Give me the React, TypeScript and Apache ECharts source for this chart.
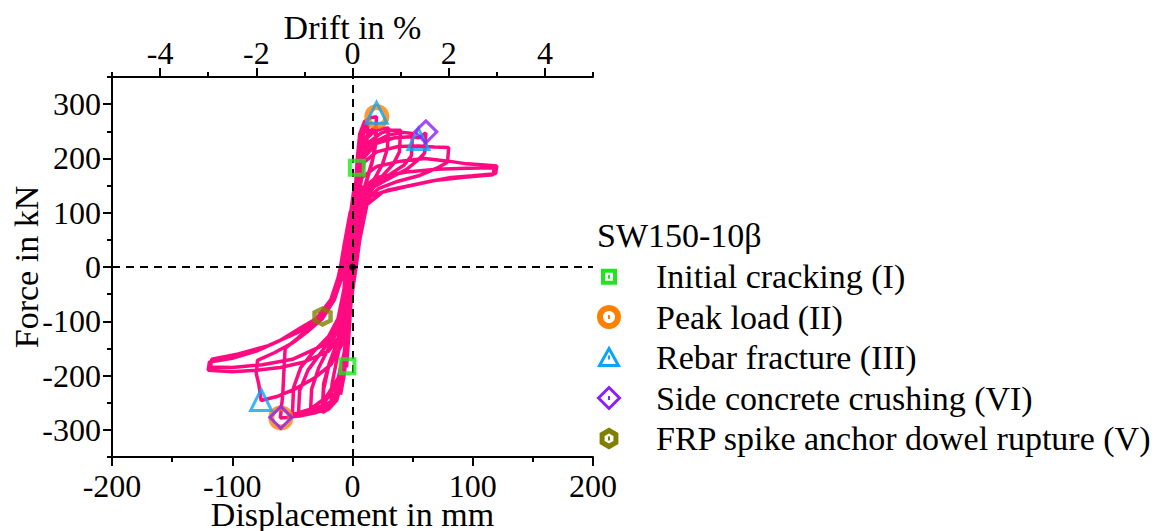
import React, { useEffect, useRef } from "react";
import * as echarts from "echarts";

// ---------- data (displacement in mm, force in kN) ----------
const C1 = [[0,0],[1,45],[2,90],[3,125],[2.5,100],[1,45],[0,0],[-1,-45],[-2,-90],[-3,-125],[-2.5,-100],[-1,-45],[0,0]];
const C2 = [[0,0],[1.5,70],[3,135],[4.5,185],[4,160],[2,90],[0,15],[-1.5,-60],[-3,-125],[-5,-185],[-4.5,-160],[-2.5,-90],[-0.5,-10],[0,0]];
const C3 = [[0,0],[2,85],[4,165],[6,225],[8,250],[7,215],[5,165],[3,100],[1,30],[0,0],[-2,-70],[-4,-140],[-7,-200],[-10,-235],[-9,-205],[-7,-160],[-4,-100],[-2,-35],[-1,0]];
const C4 = [[-1,0],[1,60],[3,130],[6,200],[9,245],[13,268],[12,230],[9,185],[6,140],[3,80],[1,20],[0,0],[-2,-60],[-5,-140],[-9,-205],[-13,-240],[-18,-255],[-17,-215],[-13,-170],[-9,-130],[-5,-75],[-3,-20],[-2,0]];
const C5 = [[-2,0],[0,60],[2,130],[4,200],[6,245],[10,268],[15,275],[20,277],[19,240],[17,200],[13,170],[9,140],[5,90],[2,25],[1,0],[-1,-50],[-4,-130],[-8,-200],[-13,-245],[-20,-262],[-25,-268],[-24,-225],[-20,-185],[-14,-150],[-9,-110],[-5,-50],[-3,0]];
const C6 = [[-3,0],[-1,50],[2,125],[5,190],[9,230],[14,250],[20,258],[19,222],[16,190],[12,160],[8,130],[5,85],[2,20],[1,0],[-2,-60],[-5,-140],[-10,-210],[-16,-245],[-25,-258],[-24,-215],[-19,-175],[-13,-140],[-8,-100],[-5,-45],[-4,0]];
const C7 = [[-4,0],[-1,70],[2,140],[6,200],[11,235],[18,250],[25,255],[30,256],[29,218],[25,190],[19,165],[12,145],[7,115],[4,60],[2,0],[-1,-60],[-4,-140],[-9,-210],[-15,-245],[-25,-265],[-35,-270],[-34,-225],[-28,-185],[-20,-150],[-13,-120],[-8,-80],[-5,-20],[-4,0]];
const C8 = [[-4,0],[-1,70],[3,145],[8,200],[15,232],[24,247],[32,252],[40,252],[39,212],[34,190],[25,168],[15,150],[9,125],[5,70],[2,0],[-1,-60],[-5,-145],[-10,-210],[-18,-250],[-30,-268],[-45,-275],[-44,-228],[-37,-190],[-27,-160],[-17,-130],[-10,-95],[-6,-40],[-5,0]];
const C9 = [[-5,0],[-2,70],[3,150],[9,200],[18,230],[30,243],[42,248],[50,246],[49,205],[43,188],[32,172],[20,155],[11,135],[6,85],[3,0],[-1,-60],[-5,-140],[-12,-205],[-22,-240],[-35,-262],[-50,-272],[-49,-222],[-43,-185],[-32,-155],[-20,-128],[-12,-95],[-7,-40],[-6,0]];
const C10 = [[-6,0],[-3,70],[2,150],[9,200],[20,228],[35,238],[48,240],[55,238],[61,247],[60,210],[55,198],[45,180],[32,165],[18,148],[10,125],[6,75],[3,0],[-1,-60],[-6,-150],[-13,-215],[-25,-255],[-40,-272],[-52,-277],[-60,-278],[-58,-235],[-57,-190],[-56,-150],[-45,-130],[-35,-108],[-25,-90],[-15,-60],[-9,-20],[-7,0]];
const C11 = [[-7,0],[-4,60],[1,140],[8,190],[20,212],[38,222],[55,223],[68,221],[80,220],[79,193],[70,182],[55,168],[38,158],[22,145],[12,125],[7,75],[3,0],[-2,-70],[-8,-140],[-18,-180],[-32,-205],[-48,-225],[-62,-238],[-76,-246],[-78,-215],[-80,-197],[-79,-172],[-65,-158],[-50,-140],[-38,-120],[-25,-95],[-15,-60],[-9,-15],[-8,0]];
const C12 = [[-8,0],[-5,50],[0,120],[8,165],[20,185],[40,195],[60,200],[80,195],[95,190],[110,188],[120,186],[119,172],[100,168],[82,165],[65,158],[48,150],[30,142],[15,130],[8,95],[4,30],[3,0],[-2,-60],[-8,-120],[-20,-155],[-40,-175],[-60,-185],[-80,-190],[-100,-193],[-120,-190],[-119,-175],[-100,-168],[-80,-155],[-60,-135],[-43,-112],[-30,-95],[-18,-60],[-12,-20],[-10,0]];
const C13 = [[-10,0],[-7,40],[-2,100],[5,140],[20,165],[45,175],[70,180],[95,182],[118,183],[117,170],[95,166],[70,160],[45,148],[25,138],[12,115],[6,50],[3,0],[-3,-60],[-10,-110],[-25,-145],[-50,-170],[-75,-180],[-100,-185],[-118,-184],[-117,-170],[-95,-160],[-70,-145],[-45,-120],[-28,-95],[-15,-50],[-10,0]];
const CYCLES = [C1, C2, C3, C4, C5, C6, C7, C8, C9, C10, C11, C12, C13];

const CRACKING = [[3.6, 183], [-4.2, -183]];
const PEAK = [[20.2, 277], [-59.6, -278]];
const REBAR = [[20, 284], [54.8, 236], [-76, -245]];
const CRUSHING = [[61, 249], [-59.6, -277]];
const FRP = [[-24.9, -91]];

const X_LABELS = [-200, -100, 0, 100, 200];
const Y_LABELS = [-300, -200, -100, 0, 100, 200, 300];
const DRIFT_LABELS = [-4, -2, 0, 2, 4];

const SPECIMEN = "SW150-10β";
const NAMES = [
  "Initial cracking (I)",
  "Peak load (II)",
  "Rebar fracture (III)",
  "Side concrete crushing (VI)",
  "FRP spike anchor dowel rupture (V)",
];
const COLORS = ["#1ee61e", "#ff8000", "#0aa5f5", "#8a1eff", "#808000"];

const FONT = "'Liberation Serif', 'Times New Roman', serif";
const PINK = "#ff0a80";
const HEX = "path://M0,-10 L8.66,-5 L8.66,5 L0,10 L-8.66,5 L-8.66,-5 Z";

function legendGraphics() {
  const x = 609;
  const rows = [276.7, 317, 357.5, 398, 438.5];
  const textX = 656;
  const els: any[] = [
    {
      type: "text", x: 597, y: 235,
      style: { text: SPECIMEN, font: "34px " + FONT, fill: "#000", verticalAlign: "middle" },
    },
  ];
  NAMES.forEach((n, i) => {
    els.push({
      type: "text", x: textX, y: rows[i],
      style: { text: n, font: "34px " + FONT, fill: "#000", verticalAlign: "middle" },
    });
  });
  const y = rows;
  els.push({ type: "rect", shape: { x: x - 6, y: y[0] - 6, width: 12, height: 12 }, style: { fill: "#fff", stroke: COLORS[0], lineWidth: 4 } });
  els.push({ type: "circle", shape: { cx: x, cy: y[1], r: 9 }, style: { fill: "#fff", stroke: COLORS[1], lineWidth: 6 } });
  els.push({ type: "polygon", shape: { points: [[x, y[2] - 9], [x + 9.5, y[2] + 8], [x - 9.5, y[2] + 8]] }, style: { fill: "#fff", stroke: COLORS[2], lineWidth: 3, lineJoin: "miter" } });
  els.push({ type: "polygon", shape: { points: [[x, y[3] - 10.5], [x + 10.5, y[3]], [x, y[3] + 10.5], [x - 10.5, y[3]]] }, style: { fill: "#fff", stroke: COLORS[3], lineWidth: 3 } });
  els.push({ type: "polygon", shape: { points: [[x, y[4] - 8], [x + 6.9, y[4] - 4], [x + 6.9, y[4] + 4], [x, y[4] + 8], [x - 6.9, y[4] + 4], [x - 6.9, y[4] - 4]] }, style: { fill: "#fff", stroke: COLORS[4], lineWidth: 5 } });
  COLORS.forEach((c, i) => {
    els.push({ type: "rect", shape: { x: x - 1, y: y[i] - 2, width: 2, height: 4 }, style: { fill: c } });
  });
  return els;
}

export default function App() {
  const ref = useRef<HTMLDivElement>(null);
  useEffect(() => {
    if (!ref.current) return;
    const chart = echarts.init(ref.current, null, { renderer: "svg" });
    const hyst: number[][] = [];
    CYCLES.forEach((c) => c.forEach((p) => hyst.push(p)));
    const txt = { fontFamily: FONT, fontSize: 32, color: "#000", lineHeight: 26 };
    const nameTxt = { fontFamily: FONT, fontSize: 34, color: "#000", lineHeight: 28 };
    const axisLine = { show: true, onZero: false, lineStyle: { color: "#000", width: 2 } };
    const noLine = { show: false, onZero: false };
    const tickStyle = { width: 2, color: "#000" };
    const marker = (name: string, data: number[][], symbol: string, size: number, color: string, bw: number) => ({
      name,
      type: "scatter",
      data,
      symbol,
      symbolSize: size,
      z: 5,
      itemStyle: { color: "rgba(0,0,0,0)", borderColor: color, borderWidth: bw },
    });
    chart.setOption({
      animation: false,
      backgroundColor: "#fff",
      grid: { left: 112, right: 566, top: 77, bottom: 74, containLabel: false, outerBoundsMode: "none" },
      xAxis: [
        {
          type: "value", position: "bottom", min: -200, max: 200, interval: 50,
          axisLine, splitLine: { show: false },
          axisTick: { show: true, length: 5, lineStyle: tickStyle },
          axisLabel: { ...txt, margin: 16, customValues: X_LABELS },
          name: "Displacement in mm", nameLocation: "middle", nameGap: 43, nameMoveOverlap: false,
          nameTextStyle: nameTxt,
        },
        {
          type: "value", position: "bottom", min: -200, max: 200,
          axisLine: noLine, splitLine: { show: false },
          axisTick: { show: true, length: 9, customValues: X_LABELS, lineStyle: tickStyle },
          axisLabel: { show: false },
        },
        {
          type: "value", position: "top", min: -5, max: 5, interval: 1,
          axisLine, splitLine: { show: false },
          axisTick: { show: true, length: 5, lineStyle: tickStyle },
          axisLabel: { ...txt, margin: 11, customValues: DRIFT_LABELS },
          name: "Drift in %", nameLocation: "middle", nameGap: 36, nameMoveOverlap: false,
          nameTextStyle: nameTxt,
        },
        {
          type: "value", position: "top", min: -5, max: 5,
          axisLine: noLine, splitLine: { show: false },
          axisTick: { show: true, length: 9, customValues: DRIFT_LABELS, lineStyle: tickStyle },
          axisLabel: { show: false },
        },
      ],
      yAxis: [
        {
          type: "value", position: "left", min: -350, max: 350, interval: 50,
          axisLine, splitLine: { show: false },
          axisTick: { show: true, length: 5, lineStyle: tickStyle },
          axisLabel: { ...txt, margin: 11, customValues: Y_LABELS },
          name: "Force in kN", nameLocation: "middle", nameGap: 72, nameRotate: 90, nameMoveOverlap: false,
          nameTextStyle: nameTxt,
        },
        {
          type: "value", position: "left", min: -350, max: 350,
          axisLine: noLine, splitLine: { show: false },
          axisTick: { show: true, length: 9, customValues: Y_LABELS, lineStyle: tickStyle },
          axisLabel: { show: false },
        },
      ],
      graphic: legendGraphics(),
      series: [
        {
          name: SPECIMEN,
          type: "line",
          data: hyst,
          showSymbol: false,
          symbol: "none",
          lineStyle: { color: PINK, width: 3.5 },
          z: 3,
          markLine: {
            silent: true,
            symbol: "none",
            label: { show: false },
            lineStyle: { color: "#000", type: [8, 6], width: 2 },
            data: [{ xAxis: 0 }, { yAxis: 0 }],
          },
        },
        {
          type: "scatter", data: [[0, 0]], symbol: "circle", symbolSize: 7, z: 6,
          itemStyle: { color: "#000" },
        },
        marker(NAMES[0], CRACKING, "rect", 14, COLORS[0], 4),
        marker(NAMES[1], PEAK, "circle", 19, COLORS[1], 6),
        marker(NAMES[2], REBAR, "triangle", 21, COLORS[2], 3),
        marker(NAMES[3], CRUSHING, "diamond", 22, COLORS[3], 3),
        marker(NAMES[4], FRP, HEX, 16, COLORS[4], 4.5),
      ],
    });
    return () => chart.dispose();
  }, []);
  return (
    <div
      ref={ref}
      style={{ position: "fixed", left: 0, top: 0, width: 1159, height: 531, background: "#fff" }}
    />
  );
}
